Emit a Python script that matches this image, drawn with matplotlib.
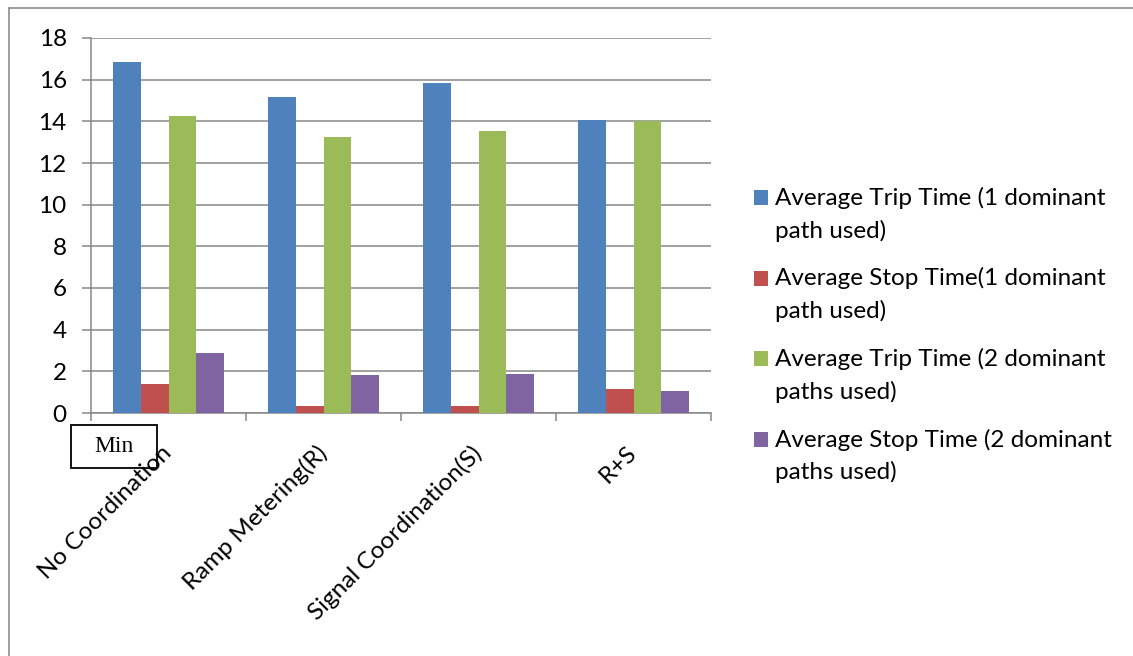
import matplotlib.pyplot as plt
import numpy as np
from matplotlib.patches import Rectangle
from matplotlib.lines import Line2D
from matplotlib.container import BarContainer
from matplotlib.legend_handler import HandlerPatch
from matplotlib.transforms import ScaledTranslation

# Chart data
categories = ["No Coordination", "Ramp Metering(R)", "Signal Coordination(S)", "R+S"]
trip_1path = [16.85, 15.17, 15.84, 14.07]
stop_1path = [1.39, 0.35, 0.35, 1.15]
trip_2paths = [14.26, 13.25, 13.54, 14.02]
stop_2paths = [2.88, 1.82, 1.87, 1.08]

series_labels = [
    "Average Trip Time (1 dominant\npath used)",
    "Average Stop Time(1 dominant\npath used)",
    "Average Trip Time (2 dominant\npaths used)",
    "Average Stop Time (2 dominant\npaths used)",
]
series_values = [trip_1path, stop_1path, trip_2paths, stop_2paths]
colors = ["#4F81BD", "#C0504D", "#9BBB59", "#8064A2"]

plt.rcParams['font.family'] = ['Lato', 'DejaVu Sans']
grid_gray = "#878787"
fs = 17.5

fig = plt.figure(figsize=(11.33, 6.56), dpi=100)
ax = fig.add_axes([91 / 1133, 1 - 413 / 656, 620 / 1133, 375 / 656])

x = np.arange(len(categories))
width = 0.18
for i, (vals, lab, col) in enumerate(zip(series_values, series_labels, colors)):
    ax.bar(x + (i - 1.5) * width, vals, width, color=col, label=lab, zorder=3)

ax.set_xlim(-0.5, len(categories) - 0.5)
ax.set_ylim(0, 18)
ax.set_yticks(range(0, 19, 2))
ax.yaxis.grid(True, color=grid_gray, linewidth=1.1, zorder=0)
ax.tick_params(axis='y', length=6.5, width=1.1, color=grid_gray, pad=11, labelsize=fs)

# category labels at centres, tick marks at boundaries
ax.set_xticks(x)
ax.set_xticklabels(categories, rotation=45, ha='right', va='top',
                   rotation_mode='anchor', fontsize=fs)
ax.tick_params(axis='x', which='major', length=0, pad=21)
shift = ScaledTranslation(-8 / 100, 0, fig.dpi_scale_trans)
for lbl in ax.get_xticklabels():
    lbl.set_transform(lbl.get_transform() + shift)
ax.set_xticks(np.arange(-0.5, len(categories)), minor=True)
ax.tick_params(axis='x', which='minor', length=6, width=1.1, color=grid_gray)

for s in ['top', 'right']:
    ax.spines[s].set_visible(False)
for s in ['left', 'bottom']:
    ax.spines[s].set_color(grid_gray)
    ax.spines[s].set_linewidth(1.1)


# legend square sits on the first line of a two-line label
def first_line_patch(legend, orig_handle, xdescent, ydescent, width, height, fontsize):
    return Rectangle((-xdescent, -ydescent + 12), width, height)


def copy_bar_style(legend_handle, orig_handle):
    legend_handle.update_from(orig_handle.patches[0])


leg = fig.legend(loc='upper left', bbox_to_anchor=(744 / 1133, 1 - 177 / 656),
                 frameon=False, fontsize=fs, handlelength=0.58, handleheight=0.58,
                 handletextpad=0.3, labelspacing=1.05, borderaxespad=0,
                 handler_map={BarContainer: HandlerPatch(patch_func=first_line_patch,
                                                         update_func=copy_bar_style)})
for t in leg.get_texts():
    t.set_linespacing(1.6)

# outer chart border
fig.add_artist(Line2D([9 / 1133, 9 / 1133], [0, 1 - 8 / 656], color="#8c8c8c", lw=1.2))
fig.add_artist(Line2D([9 / 1133, 1], [1 - 8 / 656, 1 - 8 / 656], color="#8c8c8c", lw=1.2))

# "Min" unit box (category label runs over its corner)
fig.add_artist(Rectangle((71 / 1133, 1 - 468 / 656), 86 / 1133, 43 / 656,
                         transform=fig.transFigure, facecolor='none',
                         edgecolor='black', linewidth=1.3, zorder=9))
fig.text(114 / 1133, 1 - 447 / 656, "Min", family='Liberation Serif', fontsize=17,
         ha='center', va='center', zorder=10)

fig.savefig("out.png", dpi=100)
